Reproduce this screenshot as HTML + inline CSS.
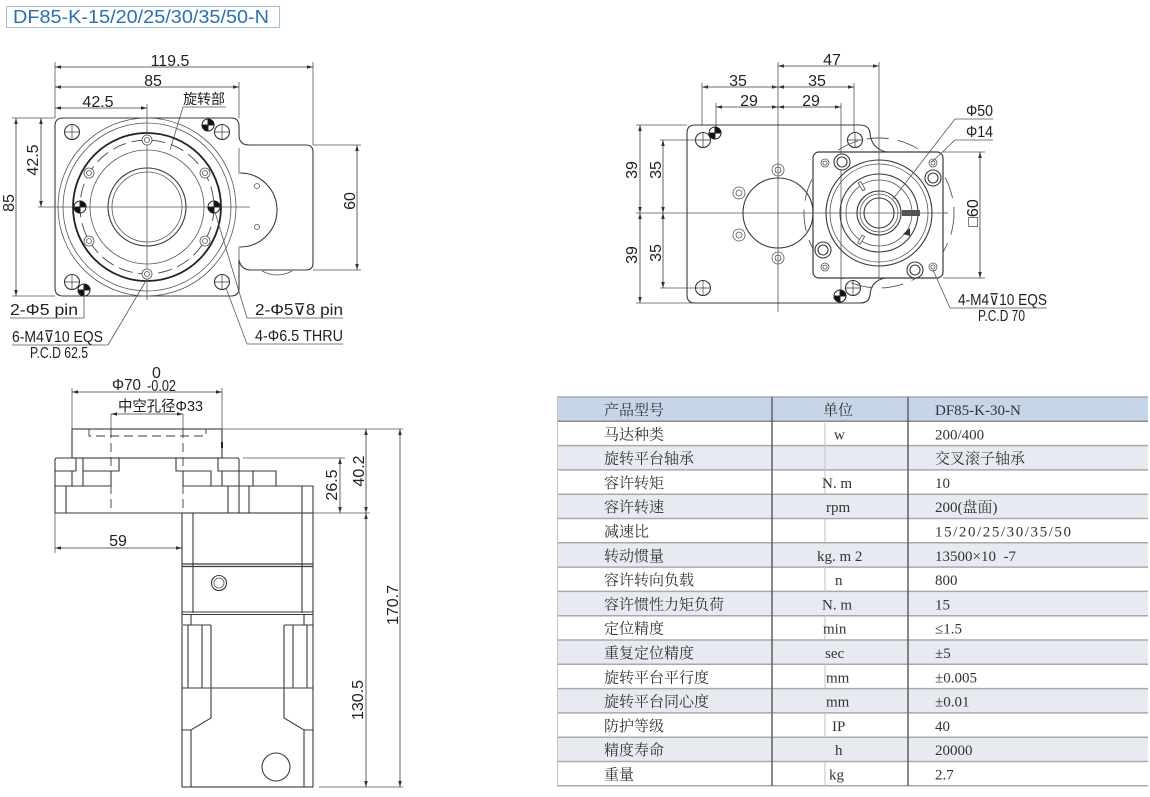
<!DOCTYPE html>
<html><head><meta charset="utf-8"><style>
html,body{margin:0;padding:0;background:#fff;width:1150px;height:797px;overflow:hidden}
svg{display:block}
.l{stroke:#3a3a3a;stroke-width:1.1;fill:none}
.t{stroke:#555;stroke-width:0.8;fill:none}
.dim{stroke:#3a3a3a;stroke-width:0.8;fill:none;marker-start:url(#ar);marker-end:url(#ar)}
.ds{stroke:#3a3a3a;stroke-width:0.9;fill:none;stroke-dasharray:9 5}
.tx{font-family:"Liberation Sans","Noto Sans CJK SC",sans-serif;font-size:16px;fill:#222}
.cj{font-family:"Liberation Sans","Noto Sans CJK SC",sans-serif;fill:#222}
.tb{font-family:"Liberation Serif","Noto Serif CJK SC",serif;font-size:15px;fill:#333}
.tm{font-family:"Liberation Serif","Noto Serif CJK SC",serif;font-size:15px;fill:#333}
</style></head><body>
<svg width="1150" height="797" viewBox="0 0 1150 797" xmlns="http://www.w3.org/2000/svg">
<defs>
<marker id="ar" viewBox="0 0 10 6" refX="10" refY="3" markerWidth="8" markerHeight="3.6" markerUnits="userSpaceOnUse" orient="auto-start-reverse"><path d="M0,0 L10,3 L0,6 z" fill="#333"/></marker>
</defs>

<!-- Title -->
<rect x="6.5" y="6.5" width="273" height="21" fill="none" stroke="#a3bfdc" stroke-width="1"/>
<text x="13" y="23" font-family="Liberation Sans, sans-serif" font-size="18.5" fill="#2a6fba" textLength="256" lengthAdjust="spacingAndGlyphs">DF85-K-15/20/25/30/35/50-N</text>

<!-- ================= VIEW 1 ================= -->
<line class="t" x1="55" y1="62" x2="55" y2="118"/>
<line class="t" x1="313" y1="62" x2="313" y2="145"/>
<line class="t" x1="239" y1="82" x2="239" y2="118"/>
<line class="dim" x1="55" y1="67" x2="313" y2="67"/>
<text class="tx" x="170" y="66" text-anchor="middle">119.5</text>
<line class="dim" x1="55" y1="87" x2="239" y2="87"/>
<text class="tx" x="153" y="86" text-anchor="middle">85</text>
<line class="dim" x1="55" y1="108" x2="147" y2="108"/>
<text class="tx" x="98" y="107" text-anchor="middle">42.5</text>
<text class="cj" x="183" y="104" font-size="14" textLength="42" lengthAdjust="spacingAndGlyphs">旋转部</text>
<line class="t" x1="183" y1="107" x2="226" y2="107"/>
<line class="t" x1="183" y1="107" x2="170" y2="150"/>

<line class="t" x1="12" y1="118" x2="55" y2="118"/>
<line class="t" x1="12" y1="296" x2="55" y2="296"/>
<line class="dim" x1="16" y1="118" x2="16" y2="296"/>
<text class="tx" transform="rotate(-90 14 203)" x="14" y="203" text-anchor="middle">85</text>
<line class="dim" x1="41" y1="118" x2="41" y2="207"/>
<text class="tx" transform="rotate(-90 38 160)" x="38" y="160" text-anchor="middle">42.5</text>
<line class="t" x1="313" y1="145" x2="361" y2="145"/>
<line class="t" x1="313" y1="270" x2="361" y2="270"/>
<line class="dim" x1="357" y1="145" x2="357" y2="270"/>
<text class="tx" transform="rotate(-90 355 201)" x="355" y="201" text-anchor="middle">60</text>

<path class="l" stroke-width="1.3" d="M63,118 L231,118 Q239,118 239,126 L239,135 Q239,145 249,145 L306,145 Q313,145 313,152 L313,263 Q313,270 306,270 L251,270 Q241,270 239,260 L239,288 Q239,296 231,296 L63,296 Q55,296 55,288 L55,126 Q55,118 63,118 Z"/>
<line class="t" x1="239" y1="148" x2="239" y2="174"/>
<line class="t" x1="239" y1="246" x2="239" y2="260"/>
<path class="l" d="M240,173 A37,37 0 0,1 240,247"/>
<circle class="t" cx="257" cy="186" r="2.5"/>
<circle class="t" cx="257" cy="227" r="2.5"/>
<path class="t" d="M262,271 Q277,279 292,271"/>

<circle class="t" cx="147" cy="207" r="89"/>
<circle class="t" cx="147" cy="207" r="84"/>
<circle cx="147" cy="207" r="74" fill="none" stroke="#222" stroke-width="1.8"/>
<circle cx="147" cy="207" r="67" fill="none" stroke="#444" stroke-width="0.9" stroke-dasharray="14 6"/>
<circle class="t" cx="147" cy="207" r="57"/>
<circle class="l" cx="147" cy="207" r="39"/>
<circle class="t" cx="147" cy="207" r="35"/>
<line class="t" x1="38" y1="207" x2="250" y2="207"/>
<line class="t" x1="147" y1="104" x2="147" y2="300"/>
<g class="t" fill="#fff">
<circle cx="147" cy="140" r="5" fill="#fff"/><circle cx="147" cy="140" r="2.5"/>
<circle cx="147" cy="274" r="5" fill="#fff"/><circle cx="147" cy="274" r="2.5"/>
<circle cx="89" cy="173" r="5" fill="#fff"/><circle cx="89" cy="173" r="2.5"/>
<circle cx="205" cy="173" r="5" fill="#fff"/><circle cx="205" cy="173" r="2.5"/>
<circle cx="89" cy="241" r="5" fill="#fff"/><circle cx="89" cy="241" r="2.5"/>
<circle cx="205" cy="241" r="5" fill="#fff"/><circle cx="205" cy="241" r="2.5"/>
</g>
<g class="l">
<circle cx="72" cy="132" r="7.5" fill="#fff"/><path d="M64,132h16M72,124v16" stroke-width="0.7"/>
<circle cx="222" cy="132" r="7.5" fill="#fff"/><path d="M214,132h16M222,124v16" stroke-width="0.7"/>
<circle cx="72" cy="282" r="7.5" fill="#fff"/><path d="M64,282h16M72,274v16" stroke-width="0.7"/>
<circle cx="222" cy="282" r="7.5" fill="#fff"/><path d="M214,282h16M222,274v16" stroke-width="0.7"/>
</g>
<g stroke="#222" stroke-width="1">
<circle cx="80" cy="207" r="6" fill="#fff"/><path d="M80,207 L86,207 A6,6 0 0,0 80,201 Z M80,207 L74,207 A6,6 0 0,0 80,213 Z" fill="#111"/>
<circle cx="214" cy="207" r="6" fill="#fff"/><path d="M214,207 L220,207 A6,6 0 0,0 214,201 Z M214,207 L208,207 A6,6 0 0,0 214,213 Z" fill="#111"/>
<circle cx="208" cy="125" r="6" fill="#fff"/><path d="M208,125 L214,125 A6,6 0 0,0 208,119 Z M208,125 L202,125 A6,6 0 0,0 208,131 Z" fill="#111"/>
<circle cx="84" cy="290" r="6" fill="#fff"/><path d="M84,290 L90,290 A6,6 0 0,0 84,284 Z M84,290 L78,290 A6,6 0 0,0 84,296 Z" fill="#111"/>
</g>
<text class="tx" x="10" y="315" textLength="68" lengthAdjust="spacingAndGlyphs">2-Φ5 pin</text>
<line class="t" x1="10" y1="318" x2="84" y2="318"/>
<line class="t" x1="84" y1="318" x2="84" y2="295"/>
<text class="tx" x="12" y="342" font-size="14" textLength="91" lengthAdjust="spacingAndGlyphs">6-M4⊽10 EQS</text>
<line class="t" x1="12" y1="345" x2="108" y2="345"/>
<line class="t" x1="108" y1="345" x2="147" y2="279"/>
<text class="tx" x="30" y="358" font-size="11" textLength="58" lengthAdjust="spacingAndGlyphs">P.C.D 62.5</text>
<text class="tx" x="255" y="315" textLength="88" lengthAdjust="spacingAndGlyphs">2-Φ5⊽8 pin</text>
<line class="t" x1="247" y1="318" x2="343" y2="318"/>
<line class="t" x1="247" y1="318" x2="215" y2="212"/>
<text class="tx" x="255" y="341" textLength="88" lengthAdjust="spacingAndGlyphs">4-Φ6.5 THRU</text>
<line class="t" x1="247" y1="344" x2="343" y2="344"/>
<line class="t" x1="247" y1="344" x2="226" y2="288"/>

<!-- ================= VIEW 2 ================= -->
<line class="t" x1="778" y1="62" x2="778" y2="312"/>
<line class="t" x1="879" y1="62" x2="879" y2="275"/>
<line class="dim" x1="778" y1="66" x2="879" y2="66"/>
<text class="tx" x="832" y="65" text-anchor="middle">47</text>
<line class="t" x1="702" y1="83" x2="702" y2="125"/>
<line class="t" x1="854" y1="83" x2="854" y2="133"/>
<line class="dim" x1="702" y1="87" x2="778" y2="87"/>
<line class="dim" x1="778" y1="87" x2="854" y2="87"/>
<text class="tx" x="738" y="86" text-anchor="middle">35</text>
<text class="tx" x="817" y="86" text-anchor="middle">35</text>
<line class="t" x1="716" y1="103" x2="716" y2="128"/>
<line class="t" x1="841" y1="103" x2="841" y2="290"/>
<line class="dim" x1="716" y1="107" x2="778" y2="107"/>
<line class="dim" x1="778" y1="107" x2="841" y2="107"/>
<text class="tx" x="749" y="106" text-anchor="middle">29</text>
<text class="tx" x="811" y="106" text-anchor="middle">29</text>

<line class="t" x1="636" y1="125" x2="687" y2="125"/>
<line class="t" x1="636" y1="303" x2="840" y2="303"/>
<line class="t" x1="660" y1="140" x2="700" y2="140"/>
<line class="t" x1="660" y1="288" x2="700" y2="288"/>
<line class="t" x1="636" y1="213" x2="948" y2="213"/>
<line class="dim" x1="640" y1="125" x2="640" y2="213"/>
<line class="dim" x1="640" y1="213" x2="640" y2="303"/>
<line class="dim" x1="663" y1="140" x2="663" y2="213"/>
<line class="dim" x1="663" y1="213" x2="663" y2="288"/>
<text class="tx" transform="rotate(-90 637 170)" x="637" y="170" text-anchor="middle">39</text>
<text class="tx" transform="rotate(-90 637 255)" x="637" y="255" text-anchor="middle">39</text>
<text class="tx" transform="rotate(-90 661 170)" x="661" y="170" text-anchor="middle">35</text>
<text class="tx" transform="rotate(-90 661 253)" x="661" y="253" text-anchor="middle">35</text>

<path class="l" stroke-width="1.3" d="M695,125 L860,125 Q869,125 870,133 Q871,148 886,152 M886,278 Q871,280 870,295 Q869,303 860,303 L695,303 Q687,303 687,295 L687,133 Q687,125 695,125"/>
<circle class="l" cx="778" cy="213" r="35"/>
<g class="t">
<circle cx="778" cy="170" r="6"/><circle cx="778" cy="170" r="3"/>
<circle cx="778" cy="258" r="6"/><circle cx="778" cy="258" r="3"/>
<circle cx="739" cy="193" r="6"/><circle cx="739" cy="193" r="3"/>
<circle cx="739" cy="235" r="6"/><circle cx="739" cy="235" r="3"/>
</g>
<g class="l">
<circle cx="703" cy="140" r="7.5" fill="#fff"/><path d="M695,140h16M703,132v16" stroke-width="0.7"/>
<circle cx="855" cy="140" r="7.5" fill="#fff"/><path d="M847,140h16M855,132v16" stroke-width="0.7"/>
<circle cx="703" cy="288" r="7.5" fill="#fff"/><path d="M695,288h16M703,280v16" stroke-width="0.7"/>
<circle cx="853" cy="288" r="7.5" fill="#fff"/><path d="M845,288h16M853,280v16" stroke-width="0.7"/>
</g>
<g stroke="#222" stroke-width="1">
<circle cx="715" cy="133" r="6" fill="#fff"/><path d="M715,133 L721,133 A6,6 0 0,0 715,127 Z M715,133 L709,133 A6,6 0 0,0 715,139 Z" fill="#111"/>
<circle cx="840" cy="296" r="6" fill="#fff"/><path d="M840,296 L846,296 A6,6 0 0,0 840,290 Z M840,296 L834,296 A6,6 0 0,0 840,302 Z" fill="#111"/>
</g>

<circle cx="879" cy="213" r="75" fill="none" stroke="#555" stroke-width="0.9" stroke-dasharray="22 9"/>
<rect x="813" y="152" width="130" height="126" rx="6" fill="#fff" stroke="#3a3a3a" stroke-width="1.2"/>
<line class="t" x1="813" y1="213" x2="948" y2="213"/>
<line class="t" x1="879" y1="152" x2="879" y2="278"/>
<line class="t" x1="841" y1="152" x2="841" y2="278"/>
<circle class="l" cx="879" cy="213" r="53"/>
<circle class="t" cx="879" cy="213" r="49"/>
<circle class="l" cx="879" cy="213" r="39"/>
<circle class="t" cx="879" cy="213" r="33"/>
<circle class="l" cx="879" cy="213" r="22"/>
<circle class="t" cx="879" cy="213" r="19"/>
<circle class="l" cx="879" cy="213" r="15"/>
<g stroke="#555" stroke-width="0.8" fill="#fff">
<rect x="860" y="182" width="3" height="9" transform="rotate(-30 861 186)"/>
<rect x="860" y="235" width="3" height="9" transform="rotate(30 861 239)"/>
</g>
<rect x="902" y="210" width="18" height="6" fill="#555"/>
<path d="M903,234 L910,228 L910,236 Z" fill="#333"/>
<g class="t">
<circle cx="825" cy="163" r="4"/><circle cx="825" cy="163" r="2"/>
<circle cx="933" cy="163" r="4"/><circle cx="933" cy="163" r="2"/>
<circle cx="825" cy="267" r="4"/><circle cx="825" cy="267" r="2"/>
<circle cx="933" cy="267" r="4"/><circle cx="933" cy="267" r="2"/>
</g>
<g class="l">
<circle cx="842" cy="162" r="8" fill="#fff"/><circle cx="842" cy="162" r="5"/>
<circle cx="933" cy="178" r="8" fill="#fff"/><circle cx="933" cy="178" r="5"/>
<circle cx="823" cy="250" r="8" fill="#fff"/><circle cx="823" cy="250" r="5"/>
<circle cx="915" cy="270" r="8" fill="#fff"/><circle cx="915" cy="270" r="5"/>
</g>
<line class="t" x1="943" y1="152" x2="985" y2="152"/>
<line class="t" x1="943" y1="278" x2="985" y2="278"/>
<line class="dim" x1="980" y1="152" x2="980" y2="278"/>
<text class="tx" transform="rotate(-90 978 213)" x="978" y="213" text-anchor="middle">□60</text>
<text class="tx" x="966" y="116" textLength="27" lengthAdjust="spacingAndGlyphs">Φ50</text>
<line class="t" x1="955" y1="119" x2="993" y2="119"/>
<line class="t" x1="955" y1="119" x2="893" y2="199"/>
<text class="tx" x="966" y="137" textLength="27" lengthAdjust="spacingAndGlyphs">Φ14</text>
<line class="t" x1="955" y1="140" x2="993" y2="140"/>
<line class="t" x1="955" y1="140" x2="932" y2="162"/>
<text class="tx" x="958" y="305" font-size="14" textLength="89" lengthAdjust="spacingAndGlyphs">4-M4⊽10 EQS</text>
<line class="t" x1="950" y1="308" x2="1047" y2="308"/>
<line class="t" x1="950" y1="308" x2="933" y2="270"/>
<text class="tx" x="978" y="321" font-size="11" textLength="47" lengthAdjust="spacingAndGlyphs">P.C.D 70</text>

<!-- ================= VIEW 3 ================= -->
<line class="t" x1="72" y1="388" x2="72" y2="429"/>
<line class="t" x1="222" y1="388" x2="222" y2="429"/>
<line class="dim" x1="72" y1="392" x2="222" y2="392"/>
<text class="tx" x="112" y="390" font-size="16" textLength="29" lengthAdjust="spacingAndGlyphs">Φ70</text>
<text class="tx" x="152" y="378" font-size="10">0</text>
<text class="tx" x="147" y="391" font-size="11" textLength="29" lengthAdjust="spacingAndGlyphs">-0.02</text>
<text class="cj" x="118" y="411" font-size="15" textLength="85" lengthAdjust="spacingAndGlyphs">中空孔径Φ33</text>
<line class="dim" x1="111" y1="414" x2="183" y2="414"/>
<line class="t" x1="111" y1="414" x2="111" y2="429"/>
<line class="t" x1="183" y1="414" x2="183" y2="429"/>

<rect class="l" x="72" y="429" width="150" height="29"/>
<path class="ds" d="M89,429 V436 H206 V429"/>
<rect x="221" y="442" width="2" height="6" fill="#222"/>
<line class="ds" x1="111" y1="429" x2="111" y2="513"/>
<line class="ds" x1="183" y1="429" x2="183" y2="513"/>
<path class="l" stroke-width="1.3" d="M57,458 H237 Q239,458 239,460 V486 M55,460 Q55,458 57,458 M55,460 V513 H313 V486 H183 M55,486 H111"/>
<g class="l" stroke-width="0.9">
<path d="M55,471 H76 M76,458 V471 M72,471 V486 M83,458 V486 M83,471 H119 V458 M111,471 V486"/>
<path d="M176,458 V471 H211 V486 M183,471 V486 M218,458 V471 H239 M222,471 V486 M237,471 H276 V486 M253,471 V486"/>
<path d="M66,486 V513 M228,486 V513 M239,486 V513 M249,486 V513 M302,486 V513"/>
</g>
<line class="t" x1="222" y1="429" x2="403" y2="429"/>
<line class="t" x1="243" y1="458" x2="345" y2="458"/>
<line class="t" x1="313" y1="513" x2="370" y2="513"/>
<line class="t" x1="319" y1="787" x2="403" y2="787"/>
<line class="dim" x1="340" y1="458" x2="340" y2="513"/>
<text class="tx" transform="rotate(-90 337 485)" x="337" y="485" text-anchor="middle">26.5</text>
<line class="dim" x1="366" y1="429" x2="366" y2="513"/>
<text class="tx" transform="rotate(-90 364 471)" x="364" y="471" text-anchor="middle">40.2</text>
<line class="dim" x1="366" y1="513" x2="366" y2="787"/>
<text class="tx" transform="rotate(-90 363 700)" x="363" y="700" text-anchor="middle">130.5</text>
<line class="dim" x1="400" y1="429" x2="400" y2="787"/>
<text class="tx" transform="rotate(-90 398 605)" x="398" y="605" text-anchor="middle">170.7</text>
<line class="t" x1="55" y1="513" x2="55" y2="553"/>
<line class="dim" x1="55" y1="548" x2="182" y2="548"/>
<text class="tx" x="118" y="546" text-anchor="middle">59</text>
<rect class="l" x="182" y="513" width="131" height="274" stroke-width="1.2"/>
<g class="l" stroke-width="0.9">
<path d="M193,513 V613 M302,513 V613"/>
<path d="M182,564 H313 M182,566.5 H313" stroke-width="1.2"/>
<path d="M182,612 H313 M182,614.5 H313" stroke-width="1.1"/>
<path d="M191,614 V625 M304,614 V625 M183,625 H211 M284,625 H313"/>
<path d="M188,625 V688 M202,625 V688 M211,625 V688 M284,625 V688 M293,625 V688 M307,625 V688"/>
<path d="M182,688 H313"/>
<path d="M211,688 V718 L191,730 H182 M191,730 V787"/>
<path d="M284,688 V718 L304,730 H313 M304,730 V787"/>
</g>
<circle class="l" cx="219" cy="583" r="7.5"/>
<circle class="t" cx="219" cy="583" r="5"/>
<circle class="l" cx="276" cy="767" r="14"/>

<!-- ================= TABLE ================= -->
<g>
<rect x="557" y="397" width="591" height="24.3" fill="#c7d5e8"/>
<rect x="557" y="445.6" width="591" height="24.3" fill="#e7ebf1"/>
<rect x="557" y="494.2" width="591" height="24.3" fill="#e7ebf1"/>
<rect x="557" y="542.8" width="591" height="24.3" fill="#e7ebf1"/>
<rect x="557" y="591.4" width="591" height="24.3" fill="#e7ebf1"/>
<rect x="557" y="640.0" width="591" height="24.3" fill="#e7ebf1"/>
<rect x="557" y="688.6" width="591" height="24.3" fill="#e7ebf1"/>
<rect x="557" y="737.2" width="591" height="24.3" fill="#e7ebf1"/>
</g>
<g stroke="#a9a9a9" stroke-width="1.5">
<line x1="557" y1="397" x2="1148" y2="397"/>
<line x1="557" y1="421.3" x2="1148" y2="421.3" stroke="#8a8a8a"/>
<line x1="557" y1="445.6" x2="1148" y2="445.6"/>
<line x1="557" y1="469.9" x2="1148" y2="469.9"/>
<line x1="557" y1="494.2" x2="1148" y2="494.2"/>
<line x1="557" y1="518.5" x2="1148" y2="518.5"/>
<line x1="557" y1="542.8" x2="1148" y2="542.8"/>
<line x1="557" y1="567.1" x2="1148" y2="567.1"/>
<line x1="557" y1="591.4" x2="1148" y2="591.4"/>
<line x1="557" y1="615.7" x2="1148" y2="615.7"/>
<line x1="557" y1="640.0" x2="1148" y2="640.0"/>
<line x1="557" y1="664.3" x2="1148" y2="664.3"/>
<line x1="557" y1="688.6" x2="1148" y2="688.6"/>
<line x1="557" y1="712.9" x2="1148" y2="712.9"/>
<line x1="557" y1="737.2" x2="1148" y2="737.2"/>
<line x1="557" y1="761.5" x2="1148" y2="761.5"/>
<line x1="557" y1="785.8" x2="1148" y2="785.8"/>
<line x1="557.5" y1="397" x2="557.5" y2="786" stroke="#c4c4c4" stroke-width="1"/>
</g>
<g stroke="#c0c0c0" stroke-width="1">
<line x1="825" y1="421.3" x2="825" y2="469.9"/>
<line x1="825" y1="469.9" x2="825" y2="494.2"/>
<line x1="825" y1="518.5" x2="825" y2="542.8"/>
<line x1="825" y1="567.1" x2="825" y2="591.4"/>
<line x1="825" y1="615.7" x2="825" y2="640.0"/>
<line x1="825" y1="664.3" x2="825" y2="688.6"/>
<line x1="825" y1="712.9" x2="825" y2="737.2"/>
<line x1="825" y1="761.5" x2="825" y2="785.8"/>
</g>
<g stroke="#606060" stroke-width="1.5">
<line x1="772" y1="397" x2="772" y2="786"/>
<line x1="908" y1="397" x2="908" y2="786"/>
</g>
<g class="tb">
<text x="604" y="415">产品型号</text>
<text x="604" y="439.3">马达种类</text>
<text x="604" y="463.6">旋转平台轴承</text>
<text x="604" y="487.9">容许转矩</text>
<text x="604" y="512.2">容许转速</text>
<text x="604" y="536.5">减速比</text>
<text x="604" y="560.8">转动惯量</text>
<text x="604" y="585.1">容许转向负载</text>
<text x="604" y="609.4">容许惯性力矩负荷</text>
<text x="604" y="633.7">定位精度</text>
<text x="604" y="658.0">重复定位精度</text>
<text x="604" y="682.3">旋转平台平行度</text>
<text x="604" y="706.6">旋转平台同心度</text>
<text x="604" y="730.9">防护等级</text>
<text x="604" y="755.2">精度寿命</text>
<text x="604" y="779.5">重量</text>
<text x="823" y="415">单位</text>
<text x="935" y="463.6">交叉滚子轴承</text>
</g>
<g class="tm">
<text x="834" y="439.3">w</text>
<text x="822" y="487.9">N. m</text>
<text x="826" y="512.2">rpm</text>
<text x="817" y="560.8">kg. m 2</text>
<text x="835" y="585.1">n</text>
<text x="822" y="609.4">N. m</text>
<text x="823" y="633.7">min</text>
<text x="825" y="658.0">sec</text>
<text x="826" y="682.3">mm</text>
<text x="826" y="706.6">mm</text>
<text x="832" y="730.9">IP</text>
<text x="835" y="755.2">h</text>
<text x="829" y="779.5">kg</text>
</g>
<g class="tm">
<text x="935" y="415">DF85-K-30-N</text>
<text x="935" y="439.3">200/400</text>
<text x="935" y="487.9">10</text>
<text x="935" y="512.2">200(盘面)</text>
<text x="935" y="536.5" textLength="136" lengthAdjust="spacing">15/20/25/30/35/50</text>
<text x="935" y="560.8" xml:space="preserve">13500×10  -7</text>
<text x="935" y="585.1">800</text>
<text x="935" y="609.4">15</text>
<text x="935" y="633.7">≤1.5</text>
<text x="935" y="658.0">±5</text>
<text x="935" y="682.3">±0.005</text>
<text x="935" y="706.6">±0.01</text>
<text x="935" y="730.9">40</text>
<text x="935" y="755.2">20000</text>
<text x="935" y="779.5">2.7</text>
</g>
</svg>
</body></html>
